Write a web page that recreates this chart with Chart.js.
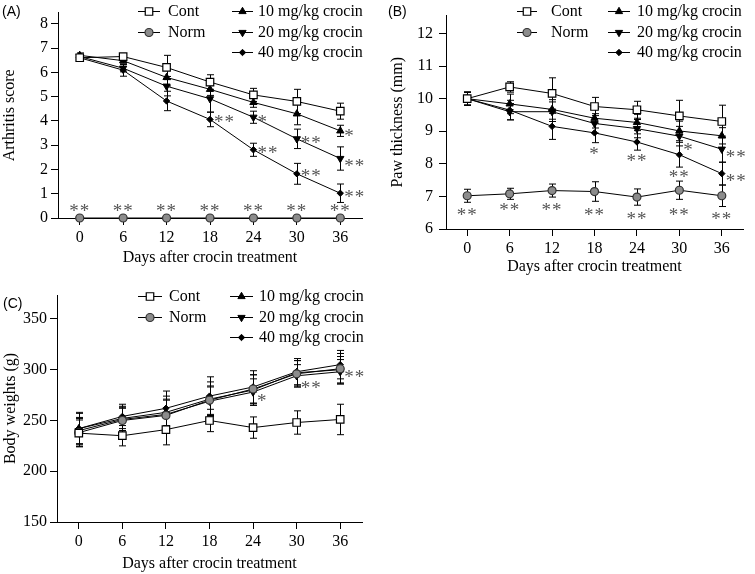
<!DOCTYPE html>
<html><head><meta charset="utf-8">
<script src="https://cdn.jsdelivr.net/npm/chart.js"></script>
<style>
html,body{margin:0;padding:0;background:#fff;}
body{width:755px;height:574px;position:relative;overflow:hidden;}
canvas{position:absolute;}
.plabel{position:absolute;font-family:"Liberation Sans",Arial,sans-serif;font-size:14px;color:#000;line-height:16px;}
</style></head><body>
<canvas id="cA" width="375" height="275" style="left:0;top:0"></canvas>
<canvas id="cB" width="385" height="280" style="left:370px;top:0"></canvas>
<canvas id="cC" width="375" height="294" style="left:0;top:280px"></canvas>
<div class="plabel" style="left:2px;top:3px">(A)</div>
<div class="plabel" style="left:388px;top:3px">(B)</div>
<div class="plabel" style="left:3px;top:295px">(C)</div>
<script>
// ---------- data ----------
const days = [0, 6, 12, 18, 24, 30, 36];
const groupNames = ['Cont', 'Norm', '10 mg/kg crocin', '20 mg/kg crocin', '40 mg/kg crocin'];
const xTitle = 'Days after crocin treatment';

// (A) Arthritis score
const arthritisTicks = [0, 1, 2, 3, 4, 5, 6, 7, 8];
const arthritisCont = [6.6, 6.65, 6.2, 5.6, 5.07, 4.8, 4.4];
const arthritisNorm = [0, 0, 0, 0, 0, 0, 0];
const arthritis10 = [6.7, 6.48, 5.79, 5.3, 4.76, 4.29, 3.59];
const arthritis20 = [6.65, 6.17, 5.43, 4.91, 4.15, 3.26, 2.45];
const arthritis40 = [6.6, 6.09, 4.82, 4.06, 2.81, 1.82, 1.02];
const arthritisContErr = [0.1, 0.1, 0.5, 0.3, 0.27, 0.5, 0.33];
const arthritisNormErr = [0, 0, 0, 0, 0, 0, 0];
const arthritis10Err = [0.1, 0.1, 0.35, 0.25, 0.2, 0.45, 0.23];
const arthritis20Err = [0.1, 0.15, 0.4, 0.55, 0.25, 0.4, 0.48];
const arthritis40Err = [0.1, 0.25, 0.4, 0.3, 0.27, 0.43, 0.38];
// significance marks: [day, value, text, side]
const arthritisSig = [
  [0, 0.46, '**', 'c'], [6, 0.46, '**', 'c'], [12, 0.46, '**', 'c'], [18, 0.46, '**', 'c'],
  [24, 0.46, '**', 'c'], [30, 0.46, '**', 'c'], [36, 0.46, '**', 'c'],
  [18, 4.12, '**', 'r'], [24, 4.12, '*', 'r'], [24, 2.86, '**', 'r'],
  [30, 3.27, '**', 'r'], [30, 1.88, '**', 'r'],
  [36, 3.53, '*', 'r'], [36, 2.32, '**', 'r'], [36, 1.05, '**', 'r']
];

// (B) Paw thickness
const pawTicks = [6, 7, 8, 9, 10, 11, 12];
const pawCont = [10.0, 10.36, 10.16, 9.76, 9.66, 9.47, 9.3];
const pawNorm = [7.02, 7.08, 7.18, 7.15, 6.98, 7.19, 7.02];
const paw10 = [10.0, 9.84, 9.67, 9.4, 9.27, 9.01, 8.86];
const paw20 = [10.0, 9.6, 9.6, 9.24, 9.08, 8.85, 8.45];
const paw40 = [10.0, 9.65, 9.15, 8.95, 8.67, 8.28, 7.7];
const pawContErr = [0.2, 0.16, 0.48, 0.28, 0.26, 0.48, 0.5];
const pawNormErr = [0.2, 0.17, 0.2, 0.3, 0.25, 0.28, 0.33];
const paw10Err = [0.2, 0.3, 0.3, 0.3, 0.25, 0.3, 0.25];
const paw20Err = [0.2, 0.25, 0.3, 0.3, 0.28, 0.3, 0.4];
const paw40Err = [0.2, 0.3, 0.4, 0.3, 0.25, 0.38, 0.35];
const pawSig = [
  [0, 6.56, '**', 'c'], [6, 6.71, '**', 'c'], [12, 6.71, '**', 'c'], [18, 6.56, '**', 'c'],
  [24, 6.42, '**', 'c'], [30, 6.56, '**', 'c'], [36, 6.42, '**', 'c'],
  [18, 8.44, '*', 'c'], [24, 8.21, '**', 'c'], [30, 8.55, '*', 'r'], [30, 7.73, '**', 'c'],
  [36, 8.34, '**', 'r'], [36, 7.61, '**', 'r']
];

// (C) Body weights
const weightTicks = [150, 200, 250, 300, 350];
const weightCont = [237.5, 235, 241, 250, 243, 248, 251];
const weightNorm = [238, 250, 255, 270, 281, 296, 301];
const weight10 = [242, 252, 258, 271, 280, 297, 300];
const weight20 = [240, 251, 256, 269, 278, 294, 298];
const weight40 = [242, 254, 262, 274, 283, 298, 305];
const weightContErr = [13, 10, 15, 11, 10.5, 11.5, 15];
const weightNormErr = [14, 13, 15, 14, 14, 13, 15];
const weight10Err = [15, 12, 16, 17, 15, 12, 13];
const weight20Err = [13, 11, 15, 14, 13, 11, 12];
const weight40Err = [16, 12, 17, 19, 16, 13, 14];
const weightSig = [
  [24, 272.9, '*', 'r'], [30, 285.7, '**', 'r'], [36, 296.5, '**', 'r']
];

// ---------- styling ----------
const FONT = '"Liberation Serif", "Times New Roman", serif';
const seriesStyles = [
  {pointStyle: 'rect', pointRadius: 5.3, pointRotation: 0, pointBackgroundColor: '#ffffff', pointBorderColor: '#000', pointBorderWidth: 1.2},
  {pointStyle: 'circle', pointRadius: 4, pointRotation: 0, pointBackgroundColor: '#8c8c8c', pointBorderColor: '#333', pointBorderWidth: 1.2},
  {pointStyle: 'triangle', pointRadius: 4.2, pointRotation: 0, pointBackgroundColor: '#000', pointBorderColor: '#000', pointBorderWidth: 1},
  {pointStyle: 'triangle', pointRadius: 4.2, pointRotation: 180, pointBackgroundColor: '#000', pointBorderColor: '#000', pointBorderWidth: 1},
  {pointStyle: 'rectRot', pointRadius: 3.2, pointRotation: 0, pointBackgroundColor: '#000', pointBorderColor: '#000', pointBorderWidth: 1}
];

function buildDatasets(valueLists, errLists) {
  return valueLists.map((vals, i) => Object.assign({
    label: groupNames[i],
    data: days.map((d, j) => ({x: d, y: vals[j]})),
    errors: errLists[i],
    borderColor: '#000',
    borderWidth: 1,
    tension: 0,
    fill: false,
    clip: false,
    pointHoverRadius: seriesStyles[i].pointRadius
  }, seriesStyles[i]));
}

function drawMarker(ctx, st, x, y) {
  ctx.save();
  ctx.fillStyle = st.pointBackgroundColor;
  ctx.strokeStyle = st.pointBorderColor;
  ctx.lineWidth = st.pointBorderWidth;
  if (Chart.helpers && Chart.helpers.drawPoint) {
    Chart.helpers.drawPoint(ctx, {pointStyle: st.pointStyle, radius: st.pointRadius, rotation: st.pointRotation, borderWidth: st.pointBorderWidth}, x, y);
  } else {
    ctx.beginPath(); ctx.arc(x, y, st.pointRadius, 0, Math.PI * 2); ctx.fill(); ctx.stroke();
  }
  ctx.restore();
}

const errorBarPlugin = {
  id: 'errbars',
  beforeDatasetsDraw(chart) {
    const ctx = chart.ctx, xs = chart.scales.x, ys = chart.scales.y;
    ctx.save();
    ctx.strokeStyle = '#000';
    ctx.lineWidth = 1;
    chart.data.datasets.forEach(ds => {
      ds.data.forEach((p, j) => {
        const e = ds.errors[j];
        if (!e) return;
        const px = Math.round(xs.getPixelForValue(p.x)) + 0.5;
        const y1 = ys.getPixelForValue(p.y + e), y2 = ys.getPixelForValue(p.y - e);
        ctx.beginPath();
        ctx.moveTo(px, y1); ctx.lineTo(px, y2);
        ctx.moveTo(px - 3.5, y1); ctx.lineTo(px + 3.5, y1);
        ctx.moveTo(px - 3.5, y2); ctx.lineTo(px + 3.5, y2);
        ctx.stroke();
      });
    });
    ctx.restore();
  }
};

function makeSigPlugin(items) {
  return {
    id: 'sig',
    afterDatasetsDraw(chart) {
      const ctx = chart.ctx, xs = chart.scales.x, ys = chart.scales.y;
      ctx.save();
      ctx.fillStyle = '#555';
      ctx.font = '19px ' + FONT;
      try { ctx.letterSpacing = '1px'; } catch (e) {}
      ctx.textBaseline = 'alphabetic';
      items.forEach(([d, v, t, side]) => {
        const px = xs.getPixelForValue(d), py = ys.getPixelForValue(v);
        if (side === 'c') { ctx.textAlign = 'center'; ctx.fillText(t, px, py + 10); }
        else { ctx.textAlign = 'left'; ctx.fillText(t, px + 4, py + 10); }
      });
      ctx.restore();
    }
  };
}

function makeLegendPlugin(L) {
  return {
    id: 'customLegend',
    afterDraw(chart) {
      const ctx = chart.ctx;
      ctx.save();
      ctx.font = '16px ' + FONT;
      ctx.fillStyle = '#000';
      ctx.textAlign = 'left';
      ctx.textBaseline = 'middle';
      L.cols.forEach(col => {
        col.items.forEach((idx, r) => {
          const y = L.rows[r];
          ctx.strokeStyle = '#000'; ctx.lineWidth = 1;
          ctx.beginPath(); ctx.moveTo(col.x0, y + 0.5); ctx.lineTo(col.x1, y + 0.5); ctx.stroke();
          drawMarker(ctx, seriesStyles[idx], (col.x0 + col.x1) / 2, y + 0.5);
          ctx.fillStyle = '#000';
          ctx.fillText(groupNames[idx], col.tx, y + 1);
        });
      });
      ctx.restore();
    }
  };
}

function makeChart(id, cfg) {
  const tickFont = {family: FONT, size: 16};
  return new Chart(document.getElementById(id), {
    type: 'line',
    data: {datasets: buildDatasets(cfg.values, cfg.errors)},
    options: {
      responsive: false,
      animation: false,
      events: [],
      layout: {padding: {left: 0, top: cfg.pt, right: cfg.pr, bottom: 0}},
      plugins: {legend: {display: false}, tooltip: {enabled: false}},
      scales: {
        x: {
          type: 'linear', min: -3, max: 39,
          afterBuildTicks: s => { s.ticks = days.map(v => ({value: v})); },
          afterFit: s => { s.height = cfg.xh; },
          grid: {drawOnChartArea: false, drawTicks: true, tickLength: 7, color: '#000', lineWidth: 1},
          border: {display: true, color: '#000', width: 1},
          ticks: {color: '#000', font: tickFont, padding: 3, maxRotation: 0, autoSkip: false},
          title: {display: true, text: xTitle, color: '#000', font: tickFont, padding: {top: 0, bottom: cfg.xtpb}}
        },
        y: {
          type: 'linear', min: cfg.ymin, max: cfg.ymax,
          afterBuildTicks: s => { s.ticks = cfg.yticks.map(v => ({value: v})); },
          afterFit: s => { s.width = cfg.yw; },
          grid: {drawOnChartArea: false, drawTicks: true, tickLength: 7, color: '#000', lineWidth: 1},
          border: {display: true, color: '#000', width: 1},
          ticks: {color: '#000', font: tickFont, padding: cfg.ytp, autoSkip: false},
          title: {display: true, text: cfg.ytitle, color: '#000', font: tickFont, padding: {top: cfg.ytitlepad, bottom: 0}}
        }
      }
    },
    plugins: [errorBarPlugin, makeSigPlugin(cfg.sig), makeLegendPlugin(cfg.legend)]
  });
}

makeChart('cA', {
  values: [arthritisCont, arthritisNorm, arthritis10, arthritis20, arthritis40],
  errors: [arthritisContErr, arthritisNormErr, arthritis10Err, arthritis20Err, arthritis40Err],
  sig: arthritisSig, yticks: arthritisTicks, ymin: 0, ymax: 8.46, ytitle: 'Arthritis score',
  pt: 3, pr: 13, xh: 57, yw: 58, xtpb: 7.4, ytitlepad: 0, ytp: 3,
  legend: {rows: [11, 32, 52], cols: [{x0: 138, x1: 160, tx: 168, items: [0, 1]}, {x0: 232, x1: 253, tx: 258, items: [2, 3, 4]}]}
});
makeChart('cB', {
  values: [pawCont, pawNorm, paw10, paw20, paw40],
  errors: [pawContErr, pawNormErr, paw10Err, paw20Err, paw40Err],
  sig: pawSig, yticks: pawTicks, ymin: 6, ymax: 12.55, ytitle: 'Paw thickness (mm)',
  pt: 4, pr: 12, xh: 51, yw: 76, xtpb: 3.7, ytitlepad: 18.4, ytp: 6,
  legend: {rows: [11, 32, 52], cols: [{x0: 147, x1: 167, tx: 181, items: [0, 1]}, {x0: 238, x1: 260, tx: 267, items: [2, 3, 4]}]}
});
makeChart('cC', {
  values: [weightCont, weightNorm, weight10, weight20, weight40],
  errors: [weightContErr, weightNormErr, weight10Err, weight20Err, weight40Err],
  sig: weightSig, yticks: weightTicks, ymin: 150, ymax: 373.6, ytitle: 'Body weights (g)',
  pt: 15, pr: 13, xh: 52, yw: 57, xtpb: 1.1, ytitlepad: 1.4, ytp: 3,
  legend: {rows: [16, 37, 57], cols: [{x0: 138, x1: 162, tx: 169, items: [0, 1]}, {x0: 230, x1: 253, tx: 259, items: [2, 3, 4]}]}
});
</script>
</body></html>
